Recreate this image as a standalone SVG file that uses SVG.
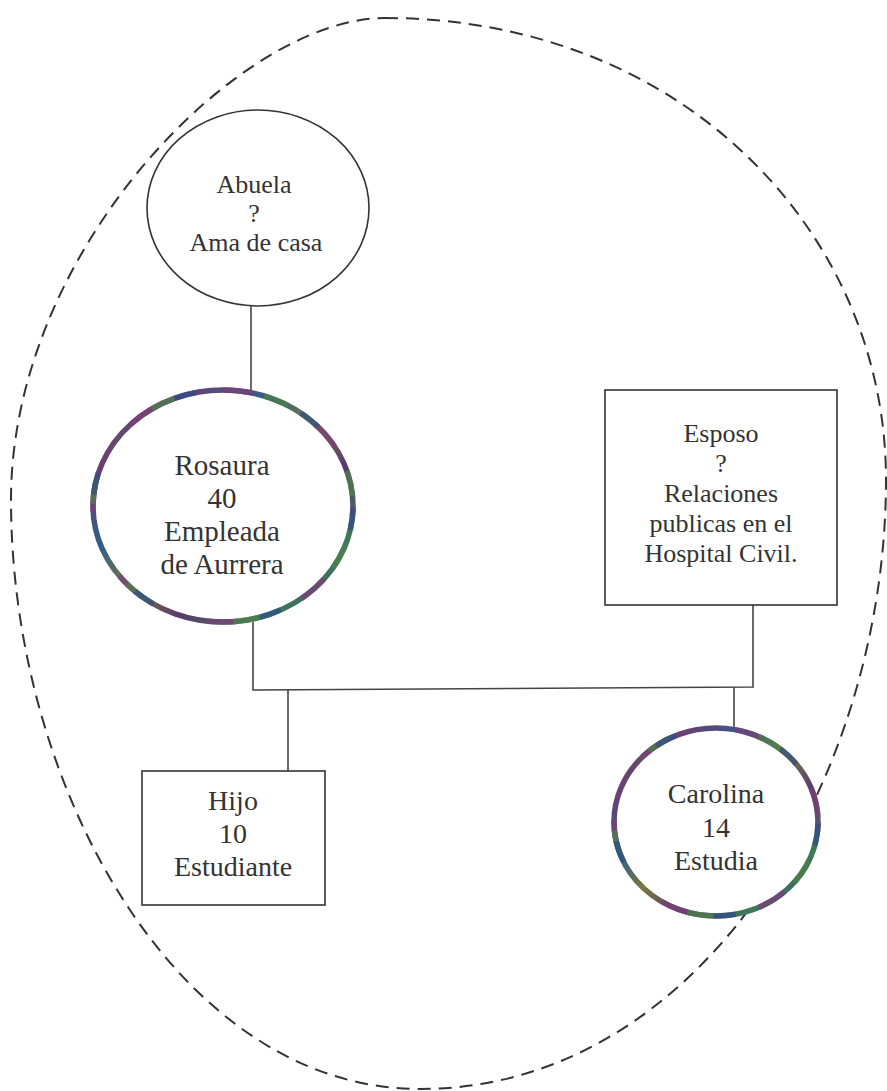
<svg xmlns="http://www.w3.org/2000/svg" width="887" height="1091" viewBox="0 0 887 1091">
  <defs>
    <!-- multicoloured ink used for the ring outlines -->
    <linearGradient id="ink" x1="0" y1="0" x2="1" y2="1">
      <stop offset="0" stop-color="#4f7d4c"/>
      <stop offset="0.18" stop-color="#6a3f74"/>
      <stop offset="0.35" stop-color="#2f5f8a"/>
      <stop offset="0.5" stop-color="#7a7840"/>
      <stop offset="0.65" stop-color="#5a3a6e"/>
      <stop offset="0.82" stop-color="#3f7a5a"/>
      <stop offset="1" stop-color="#3b3f78"/>
    </linearGradient>
  </defs>
  <style>
    .label { font-family: "Liberation Serif", "Times New Roman", serif; fill: #333; text-anchor: middle; }
    .plain { fill: #fff; stroke: #333; stroke-width: 1.6; }
    .ring-base { fill: #fff; stroke: url(#ink); stroke-width: 5.5; }
    .ring-p { fill: none; stroke: #7a3f78; stroke-opacity: 0.75; stroke-width: 5.5; stroke-dasharray: 30 70; stroke-dashoffset: 20; }
    .ring-g { fill: none; stroke: #4d7f4a; stroke-opacity: 0.75; stroke-width: 5.5; stroke-dasharray: 26 90; stroke-dashoffset: 75; }
    .ring-b { fill: none; stroke: #2c4f86; stroke-opacity: 0.7; stroke-width: 5.5; stroke-dasharray: 22 110; stroke-dashoffset: 130; }
    .link { fill: none; stroke: #444; stroke-width: 1.6; }
    .household { fill: none; stroke: #333; stroke-width: 2; stroke-dasharray: 13 8; }
  </style>

  <rect width="887" height="1091" fill="#fff"/>

  <!-- household boundary -->
  <path id="household" class="household"
        d="M 385 18 C 680 18, 886 230, 886 480 C 886 780, 700 1089, 420 1089 C 180 1089, 11 790, 11 500 C 11 250, 240 18, 385 18 Z"/>

  <!-- connectors -->
  <g id="connectors">
    <path class="link" d="M 251 304 L 251 390"/>
    <path class="link" d="M 253 622 L 253 690 L 753 687 L 753 605"/>
    <path class="link" d="M 288 690 L 288 771"/>
    <path class="link" d="M 734 687 L 734 728"/>
  </g>

  <!-- grandmother -->
  <g id="abuela">
    <ellipse class="plain" cx="258" cy="208" rx="111" ry="98"/>
    <text class="label" font-size="26" x="254" y="193">Abuela</text>
    <text class="label" font-size="26" x="254" y="222">?</text>
    <text class="label" font-size="26" x="256" y="251">Ama de casa</text>
  </g>

  <!-- Rosaura -->
  <g id="rosaura">
    <ellipse class="ring-base" cx="223" cy="506" rx="130" ry="116"/>
    <ellipse class="ring-p" cx="223" cy="506" rx="130" ry="116"/>
    <ellipse class="ring-g" cx="223" cy="506" rx="130" ry="116"/>
    <ellipse class="ring-b" cx="223" cy="506" rx="130" ry="116"/>
    <text class="label" font-size="29" x="222" y="475" fill="#4e4258">Rosaura</text>
    <text class="label" font-size="29" x="222" y="508" fill="#4a5a48">40</text>
    <text class="label" font-size="29" x="222" y="541">Empleada</text>
    <text class="label" font-size="29" x="222" y="574">de Aurrera</text>
  </g>

  <!-- husband -->
  <g id="esposo">
    <rect class="plain" x="605" y="390" width="232" height="215"/>
    <text class="label" font-size="26" x="721" y="442">Esposo</text>
    <text class="label" font-size="26" x="721" y="472">?</text>
    <text class="label" font-size="26" x="721" y="502" fill="#4e4258">Relaciones</text>
    <text class="label" font-size="26" x="721" y="532">publicas en el</text>
    <text class="label" font-size="26" x="721" y="562" fill="#3f4d40">Hospital Civil.</text>
  </g>

  <!-- son -->
  <g id="hijo">
    <rect class="plain" x="142" y="771" width="183" height="134"/>
    <text class="label" font-size="28" x="233" y="810">Hijo</text>
    <text class="label" font-size="28" x="233" y="843">10</text>
    <text class="label" font-size="28" x="233" y="876">Estudiante</text>
  </g>

  <!-- Carolina -->
  <g id="carolina">
    <ellipse class="ring-base" cx="716" cy="822" rx="102" ry="94"/>
    <ellipse class="ring-p" cx="716" cy="822" rx="102" ry="94"/>
    <ellipse class="ring-g" cx="716" cy="822" rx="102" ry="94"/>
    <ellipse class="ring-b" cx="716" cy="822" rx="102" ry="94"/>
    <text class="label" font-size="28" x="716" y="803">Carolina</text>
    <text class="label" font-size="28" x="716" y="837">14</text>
    <text class="label" font-size="28" x="716" y="870">Estudia</text>
  </g>
</svg>
